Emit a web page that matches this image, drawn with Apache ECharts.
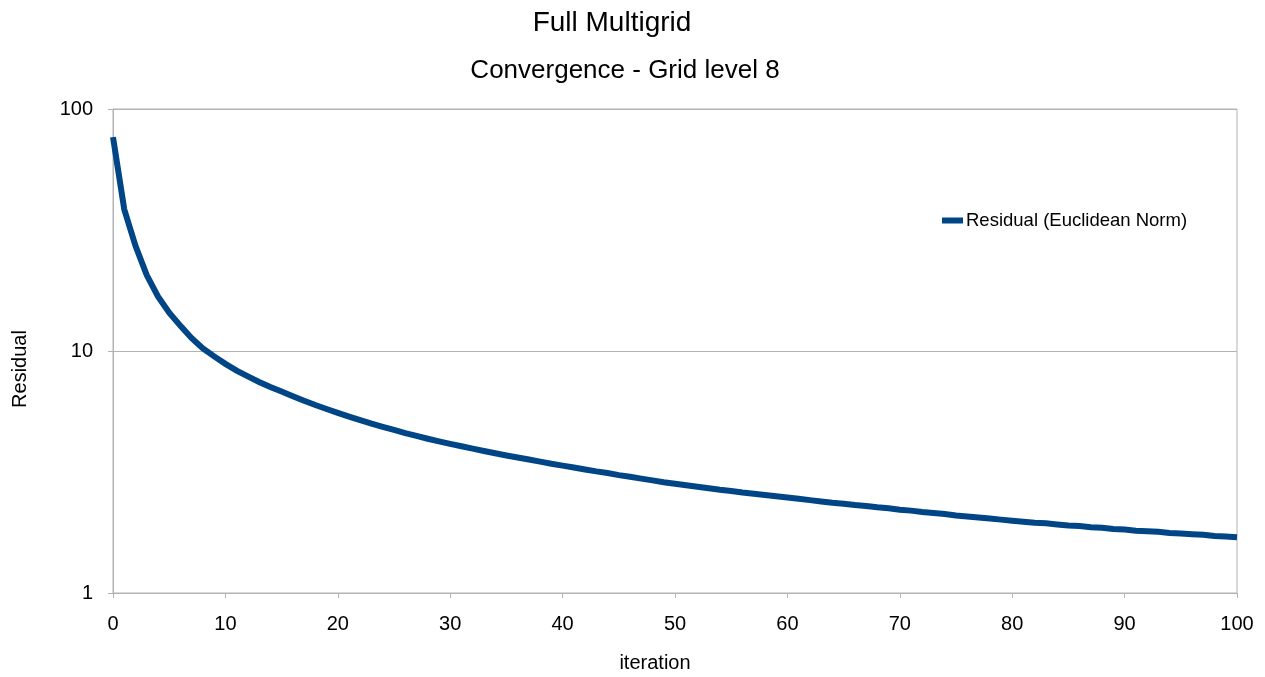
<!DOCTYPE html>
<html>
<head>
<meta charset="utf-8">
<script src="https://cdn.jsdelivr.net/npm/echarts@6/dist/echarts.min.js"></script>
<style>
  html, body { margin: 0; padding: 0; background: #fff; }
  #chart { width: 1265px; height: 677px; }
</style>
</head>
<body>
<div id="chart"></div>
<script>
// Residual (Euclidean norm) per multigrid iteration, grid level 8
const iterations = [];
for (let i = 0; i <= 100; i++) iterations.push(i);

const residual = [
  76.5, 38.5, 27.2, 20.6, 16.8, 14.4, 12.7, 11.3, 10.25, 9.5,
  8.85, 8.3, 7.85, 7.45, 7.1, 6.8, 6.5, 6.23, 5.98, 5.76,
  5.55, 5.36, 5.18, 5.01, 4.86, 4.72, 4.58, 4.46, 4.34, 4.23,
  4.13, 4.04, 3.95, 3.86, 3.78, 3.70, 3.63, 3.56, 3.49, 3.42,
  3.36, 3.30, 3.24, 3.18, 3.13, 3.07, 3.02, 2.97, 2.92, 2.87,
  2.83, 2.79, 2.75, 2.71, 2.67, 2.64, 2.60, 2.57, 2.54, 2.51,
  2.48, 2.45, 2.42, 2.39, 2.36, 2.34, 2.31, 2.29, 2.26, 2.24,
  2.21, 2.19, 2.16, 2.14, 2.12, 2.09, 2.07, 2.05, 2.03, 2.01,
  1.99, 1.97, 1.95, 1.94, 1.92, 1.90, 1.89, 1.87, 1.86, 1.84,
  1.83, 1.81, 1.80, 1.79, 1.77, 1.76, 1.75, 1.74, 1.72, 1.71,
  1.70
];

const titleText = 'Full Multigrid';
const subtitleText = 'Convergence - Grid level 8';
const seriesName = 'Residual (Euclidean Norm)';
const xAxisName = 'iteration';
const yAxisName = 'Residual';

const font = '"Liberation Sans", Arial, sans-serif';
const gridColor = '#b3b3b3';
const lineColor = '#004586';

const chart = echarts.init(document.getElementById('chart'), null, { renderer: 'canvas' });

chart.setOption({
  animation: false,
  backgroundColor: '#ffffff',
  title: [
    {
      text: titleText,
      left: 607, top: 4, textAlign: 'center',
      textStyle: { fontFamily: font, fontSize: 28, fontWeight: 'normal', color: '#000' }
    },
    {
      text: subtitleText,
      left: 620, top: 53, textAlign: 'center',
      textStyle: { fontFamily: font, fontSize: 26, fontWeight: 'normal', color: '#000' }
    }
  ],
  legend: {
    left: 937, top: 206,
    itemWidth: 21, itemHeight: 6, itemGap: 5,
    icon: 'rect',
    textStyle: { fontFamily: font, fontSize: 18.5, color: '#000', padding: [0, 0, 0, -2] },
    data: [{ name: seriesName, icon: 'rect' }]
  },
  grid: {
    left: 113, right: 28, top: 109, bottom: 84,
    show: true, borderColor: gridColor, borderWidth: 1,
    outerBoundsMode: 'none',
    containLabel: false
  },
  xAxis: {
    type: 'value',
    min: 0, max: 100, interval: 10,
    name: xAxisName,
    nameLocation: 'middle',
    nameGap: 60,
    nameTextStyle: { fontFamily: font, fontSize: 20, color: '#000', padding: [0, 40, 0, 0] },
    axisLine: { show: true, lineStyle: { color: gridColor, width: 1 } },
    axisTick: { show: true, length: 5, lineStyle: { color: gridColor } },
    axisLabel: { fontFamily: font, fontSize: 20, color: '#000', margin: 21 },
    splitLine: { show: false }
  },
  yAxis: {
    type: 'log',
    logBase: 10,
    min: 1, max: 100,
    name: yAxisName,
    nameLocation: 'middle',
    nameGap: 83,
    nameRotate: 90,
    nameTextStyle: { fontFamily: font, fontSize: 20, color: '#000', padding: [0, 36, 0, 0] },
    axisLine: { show: true, lineStyle: { color: gridColor, width: 1 } },
    axisTick: { show: true, length: 5, lineStyle: { color: gridColor } },
    axisLabel: { fontFamily: font, fontSize: 20, color: '#000', margin: 20 },
    splitLine: { show: true, lineStyle: { color: gridColor, width: 1 } },
    minorTick: { show: false },
    minorSplitLine: { show: false }
  },
  series: [
    {
      name: seriesName,
      type: 'line',
      data: iterations.map((x, i) => [x, residual[i]]),
      showSymbol: false,
      symbol: 'none',
      smooth: false,
      lineStyle: { color: lineColor, width: 6, cap: 'butt', join: 'miter' },
      itemStyle: { color: lineColor }
    }
  ]
});
</script>
</body>
</html>
